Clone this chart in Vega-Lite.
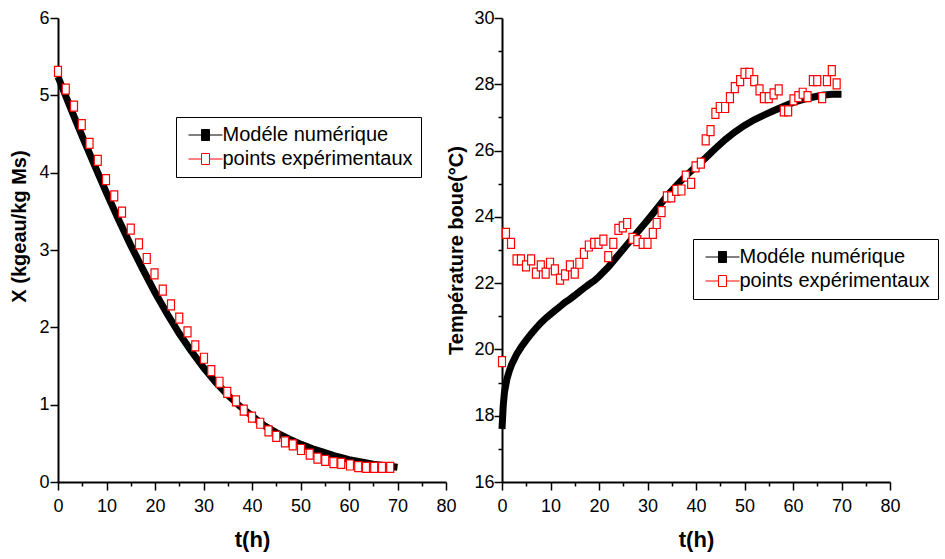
{
  "$schema": "https://vega.github.io/schema/vega-lite/v6.json",
  "background": "white",
  "padding": {"left": 9, "top": 9, "right": 0, "bottom": 5},
  "config": {
    "view": {"stroke": null},
    "axis": {
      "domainColor": "black", "domainWidth": 2, "tickColor": "black", "tickWidth": 1.5,
      "grid": false, "labelColor": "black", "titleColor": "black",
      "labelFont": "'Liberation Sans Narrow', 'Liberation Sans', sans-serif", "labelFontSize": 18,
      "labelFlush": false, "labelOverlap": false, "labelBound": false,
      "titleFont": "'Liberation Sans', Arial, sans-serif", "titleFontWeight": "bold", "titleFontSize": 20
    },
    "legend": {
      "title": null, "orient": "none",
      "symbolType": "M-3.09,0L-0.727,0M0.727,0L3.09,0M-0.727,-1L0.727,-1L0.727,1L-0.727,1Z",
      "symbolSize": 121, "symbolOffset": 11.5, "labelOffset": 7, "symbolStrokeWidth": 1,
      "symbolFillColor": "white", "symbolStrokeColor": "black", "symbolOpacity": 1,
      "labelFont": "'Liberation Sans', Arial, sans-serif", "labelFontSize": 20, "labelColor": "black", "labelLimit": 400,
      "padding": 8, "rowPadding": 4, "strokeColor": "black", "fillColor": "white"
    }
  },
  "datasets": {
    "xmod": [
      {"t": 0, "v": 5.24, "s": "Modéle numérique"}, {"t": 2.5, "v": 4.85, "s": "Modéle numérique"},
      {"t": 5, "v": 4.47, "s": "Modéle numérique"}, {"t": 7.5, "v": 4.10, "s": "Modéle numérique"},
      {"t": 10, "v": 3.74, "s": "Modéle numérique"}, {"t": 12.5, "v": 3.39, "s": "Modéle numérique"},
      {"t": 15, "v": 3.06, "s": "Modéle numérique"}, {"t": 17.5, "v": 2.75, "s": "Modéle numérique"},
      {"t": 20, "v": 2.45, "s": "Modéle numérique"}, {"t": 22.5, "v": 2.175, "s": "Modéle numérique"},
      {"t": 25, "v": 1.92, "s": "Modéle numérique"}, {"t": 27.5, "v": 1.69, "s": "Modéle numérique"},
      {"t": 30, "v": 1.48, "s": "Modéle numérique"}, {"t": 32.5, "v": 1.29, "s": "Modéle numérique"},
      {"t": 35, "v": 1.125, "s": "Modéle numérique"}, {"t": 37.5, "v": 0.98, "s": "Modéle numérique"},
      {"t": 40, "v": 0.855, "s": "Modéle numérique"}, {"t": 42.5, "v": 0.73, "s": "Modéle numérique"},
      {"t": 45, "v": 0.64, "s": "Modéle numérique"}, {"t": 47.5, "v": 0.56, "s": "Modéle numérique"},
      {"t": 50, "v": 0.49, "s": "Modéle numérique"}, {"t": 52.5, "v": 0.43, "s": "Modéle numérique"},
      {"t": 55, "v": 0.38, "s": "Modéle numérique"}, {"t": 57.5, "v": 0.33, "s": "Modéle numérique"},
      {"t": 60, "v": 0.29, "s": "Modéle numérique"}, {"t": 62.5, "v": 0.26, "s": "Modéle numérique"},
      {"t": 65, "v": 0.23, "s": "Modéle numérique"}, {"t": 67.5, "v": 0.21, "s": "Modéle numérique"},
      {"t": 70, "v": 0.19, "s": "Modéle numérique"}
    ],
    "xexp": [
      {"t": 0, "v": 5.31, "s": "points expérimentaux"}, {"t": 1.6, "v": 5.08, "s": "points expérimentaux"},
      {"t": 3.3, "v": 4.86, "s": "points expérimentaux"}, {"t": 4.9, "v": 4.62, "s": "points expérimentaux"},
      {"t": 6.5, "v": 4.38, "s": "points expérimentaux"}, {"t": 8.2, "v": 4.16, "s": "points expérimentaux"},
      {"t": 9.9, "v": 3.91, "s": "points expérimentaux"}, {"t": 11.6, "v": 3.70, "s": "points expérimentaux"},
      {"t": 13.2, "v": 3.49, "s": "points expérimentaux"}, {"t": 15.0, "v": 3.27, "s": "points expérimentaux"},
      {"t": 16.7, "v": 3.08, "s": "points expérimentaux"}, {"t": 18.3, "v": 2.89, "s": "points expérimentaux"},
      {"t": 19.9, "v": 2.69, "s": "points expérimentaux"}, {"t": 21.6, "v": 2.48, "s": "points expérimentaux"},
      {"t": 23.3, "v": 2.29, "s": "points expérimentaux"}, {"t": 25.0, "v": 2.12, "s": "points expérimentaux"},
      {"t": 26.7, "v": 1.94, "s": "points expérimentaux"}, {"t": 28.3, "v": 1.76, "s": "points expérimentaux"},
      {"t": 30.1, "v": 1.60, "s": "points expérimentaux"}, {"t": 31.6, "v": 1.44, "s": "points expérimentaux"},
      {"t": 33.3, "v": 1.29, "s": "points expérimentaux"}, {"t": 34.9, "v": 1.16, "s": "points expérimentaux"},
      {"t": 36.7, "v": 1.05, "s": "points expérimentaux"}, {"t": 38.3, "v": 0.93, "s": "points expérimentaux"},
      {"t": 40.0, "v": 0.84, "s": "points expérimentaux"}, {"t": 41.7, "v": 0.76, "s": "points expérimentaux"},
      {"t": 43.4, "v": 0.66, "s": "points expérimentaux"}, {"t": 45.0, "v": 0.59, "s": "points expérimentaux"},
      {"t": 46.8, "v": 0.52, "s": "points expérimentaux"}, {"t": 48.4, "v": 0.48, "s": "points expérimentaux"},
      {"t": 50.1, "v": 0.42, "s": "points expérimentaux"}, {"t": 51.9, "v": 0.36, "s": "points expérimentaux"},
      {"t": 53.5, "v": 0.31, "s": "points expérimentaux"}, {"t": 55.1, "v": 0.28, "s": "points expérimentaux"},
      {"t": 56.8, "v": 0.25, "s": "points expérimentaux"}, {"t": 58.4, "v": 0.24, "s": "points expérimentaux"},
      {"t": 60.2, "v": 0.22, "s": "points expérimentaux"}, {"t": 61.9, "v": 0.20, "s": "points expérimentaux"},
      {"t": 63.5, "v": 0.19, "s": "points expérimentaux"}, {"t": 65.2, "v": 0.19, "s": "points expérimentaux"},
      {"t": 66.8, "v": 0.19, "s": "points expérimentaux"}, {"t": 68.5, "v": 0.19, "s": "points expérimentaux"}
    ],
    "tmod": [
      {"t": 0, "v": 17.6, "s": "Modéle numérique"}, {"t": 0.25, "v": 18.3, "s": "Modéle numérique"},
      {"t": 0.5, "v": 18.7, "s": "Modéle numérique"}, {"t": 1, "v": 19.1, "s": "Modéle numérique"},
      {"t": 1.5, "v": 19.35, "s": "Modéle numérique"}, {"t": 2, "v": 19.55, "s": "Modéle numérique"},
      {"t": 3, "v": 19.85, "s": "Modéle numérique"}, {"t": 4, "v": 20.08, "s": "Modéle numérique"},
      {"t": 5, "v": 20.28, "s": "Modéle numérique"}, {"t": 6, "v": 20.47, "s": "Modéle numérique"},
      {"t": 7, "v": 20.64, "s": "Modéle numérique"}, {"t": 8, "v": 20.8, "s": "Modéle numérique"},
      {"t": 9, "v": 20.94, "s": "Modéle numérique"}, {"t": 10, "v": 21.06, "s": "Modéle numérique"},
      {"t": 11, "v": 21.18, "s": "Modéle numérique"}, {"t": 12, "v": 21.3, "s": "Modéle numérique"},
      {"t": 13, "v": 21.42, "s": "Modéle numérique"}, {"t": 14, "v": 21.52, "s": "Modéle numérique"},
      {"t": 15, "v": 21.63, "s": "Modéle numérique"}, {"t": 16, "v": 21.75, "s": "Modéle numérique"},
      {"t": 17, "v": 21.86, "s": "Modéle numérique"}, {"t": 18, "v": 21.97, "s": "Modéle numérique"},
      {"t": 19, "v": 22.07, "s": "Modéle numérique"}, {"t": 20, "v": 22.2, "s": "Modéle numérique"},
      {"t": 22, "v": 22.5, "s": "Modéle numérique"}, {"t": 24, "v": 22.85, "s": "Modéle numérique"},
      {"t": 26, "v": 23.2, "s": "Modéle numérique"}, {"t": 28, "v": 23.55, "s": "Modéle numérique"},
      {"t": 30, "v": 23.9, "s": "Modéle numérique"}, {"t": 32, "v": 24.26, "s": "Modéle numérique"},
      {"t": 34, "v": 24.63, "s": "Modéle numérique"}, {"t": 36, "v": 24.95, "s": "Modéle numérique"},
      {"t": 38, "v": 25.25, "s": "Modéle numérique"}, {"t": 40, "v": 25.52, "s": "Modéle numérique"},
      {"t": 42, "v": 25.78, "s": "Modéle numérique"}, {"t": 44, "v": 26.06, "s": "Modéle numérique"},
      {"t": 46, "v": 26.33, "s": "Modéle numérique"}, {"t": 48, "v": 26.56, "s": "Modéle numérique"},
      {"t": 50, "v": 26.76, "s": "Modéle numérique"}, {"t": 52, "v": 26.93, "s": "Modéle numérique"},
      {"t": 54, "v": 27.07, "s": "Modéle numérique"}, {"t": 56, "v": 27.2, "s": "Modéle numérique"},
      {"t": 58, "v": 27.33, "s": "Modéle numérique"}, {"t": 60, "v": 27.45, "s": "Modéle numérique"},
      {"t": 62, "v": 27.54, "s": "Modéle numérique"}, {"t": 64, "v": 27.61, "s": "Modéle numérique"},
      {"t": 66, "v": 27.67, "s": "Modéle numérique"}, {"t": 68, "v": 27.7, "s": "Modéle numérique"},
      {"t": 70, "v": 27.7, "s": "Modéle numérique"}
    ],
    "texp": [
      {"t": 0, "v": 19.63, "s": "points expérimentaux"}, {"t": 0.82, "v": 23.5, "s": "points expérimentaux"},
      {"t": 1.86, "v": 23.2, "s": "points expérimentaux"}, {"t": 3.0, "v": 22.7, "s": "points expérimentaux"},
      {"t": 3.9, "v": 22.7, "s": "points expérimentaux"}, {"t": 4.95, "v": 22.52, "s": "points expérimentaux"},
      {"t": 6.0, "v": 22.7, "s": "points expérimentaux"}, {"t": 7.0, "v": 22.3, "s": "points expérimentaux"},
      {"t": 8.0, "v": 22.52, "s": "points expérimentaux"}, {"t": 9.0, "v": 22.3, "s": "points expérimentaux"},
      {"t": 9.9, "v": 22.6, "s": "points expérimentaux"}, {"t": 10.9, "v": 22.4, "s": "points expérimentaux"},
      {"t": 11.96, "v": 22.12, "s": "points expérimentaux"}, {"t": 13.0, "v": 22.25, "s": "points expérimentaux"},
      {"t": 14.0, "v": 22.52, "s": "points expérimentaux"}, {"t": 15.0, "v": 22.3, "s": "points expérimentaux"},
      {"t": 15.95, "v": 22.6, "s": "points expérimentaux"}, {"t": 16.9, "v": 22.9, "s": "points expérimentaux"},
      {"t": 17.9, "v": 23.12, "s": "points expérimentaux"}, {"t": 19.0, "v": 23.2, "s": "points expérimentaux"},
      {"t": 19.9, "v": 23.2, "s": "points expérimentaux"}, {"t": 20.9, "v": 23.3, "s": "points expérimentaux"},
      {"t": 21.9, "v": 22.8, "s": "points expérimentaux"}, {"t": 22.95, "v": 23.2, "s": "points expérimentaux"},
      {"t": 24.0, "v": 23.62, "s": "points expérimentaux"}, {"t": 24.9, "v": 23.7, "s": "points expérimentaux"},
      {"t": 25.8, "v": 23.8, "s": "points expérimentaux"}, {"t": 26.9, "v": 23.35, "s": "points expérimentaux"},
      {"t": 27.9, "v": 23.28, "s": "points expérimentaux"}, {"t": 29.0, "v": 23.2, "s": "points expérimentaux"},
      {"t": 30.0, "v": 23.2, "s": "points expérimentaux"}, {"t": 31.1, "v": 23.5, "s": "points expérimentaux"},
      {"t": 31.9, "v": 23.8, "s": "points expérimentaux"}, {"t": 32.9, "v": 24.16, "s": "points expérimentaux"},
      {"t": 34.0, "v": 24.6, "s": "points expérimentaux"}, {"t": 34.9, "v": 24.6, "s": "points expérimentaux"},
      {"t": 35.9, "v": 24.8, "s": "points expérimentaux"}, {"t": 37.0, "v": 24.81, "s": "points expérimentaux"},
      {"t": 37.9, "v": 25.23, "s": "points expérimentaux"}, {"t": 39.0, "v": 25.01, "s": "points expérimentaux"},
      {"t": 39.9, "v": 25.51, "s": "points expérimentaux"}, {"t": 41.0, "v": 25.62, "s": "points expérimentaux"},
      {"t": 42.0, "v": 26.32, "s": "points expérimentaux"}, {"t": 43.0, "v": 26.6, "s": "points expérimentaux"},
      {"t": 44.0, "v": 27.12, "s": "points expérimentaux"}, {"t": 44.9, "v": 27.3, "s": "points expérimentaux"},
      {"t": 46.0, "v": 27.3, "s": "points expérimentaux"}, {"t": 47.0, "v": 27.6, "s": "points expérimentaux"},
      {"t": 48.0, "v": 27.9, "s": "points expérimentaux"}, {"t": 49.1, "v": 28.11, "s": "points expérimentaux"},
      {"t": 50.0, "v": 28.33, "s": "points expérimentaux"}, {"t": 51.0, "v": 28.33, "s": "points expérimentaux"},
      {"t": 52.0, "v": 28.11, "s": "points expérimentaux"}, {"t": 53.1, "v": 27.83, "s": "points expérimentaux"},
      {"t": 54.0, "v": 27.6, "s": "points expérimentaux"}, {"t": 55.0, "v": 27.6, "s": "points expérimentaux"},
      {"t": 56.0, "v": 27.71, "s": "points expérimentaux"}, {"t": 57.05, "v": 27.83, "s": "points expérimentaux"},
      {"t": 58.1, "v": 27.2, "s": "points expérimentaux"}, {"t": 59.0, "v": 27.2, "s": "points expérimentaux"},
      {"t": 60.1, "v": 27.53, "s": "points expérimentaux"}, {"t": 61.1, "v": 27.63, "s": "points expérimentaux"},
      {"t": 62.0, "v": 27.73, "s": "points expérimentaux"}, {"t": 63.0, "v": 27.63, "s": "points expérimentaux"},
      {"t": 64.1, "v": 28.11, "s": "points expérimentaux"}, {"t": 65.0, "v": 28.11, "s": "points expérimentaux"},
      {"t": 66.0, "v": 27.6, "s": "points expérimentaux"}, {"t": 67.0, "v": 28.11, "s": "points expérimentaux"},
      {"t": 68.0, "v": 28.41, "s": "points expérimentaux"}, {"t": 69.0, "v": 28.01, "s": "points expérimentaux"}
    ]
  },
  "spacing": 56,
  "bounds": "flush",
  "resolve": {"scale": {"stroke": "independent", "fill": "independent"}, "legend": {"stroke": "independent", "fill": "independent"}},
  "hconcat": [
    {
      "width": 388, "height": 464,
      "encoding": {
        "x": {"field": "t", "type": "quantitative", "scale": {"domain": [0, 80], "nice": false, "zero": false},
          "axis": {"title": "t(h)", "titleFont": "'Liberation Sans Narrow', 'Liberation Sans', sans-serif", "titleFontSize": 22, "titlePadding": 14,
            "values": [0,5,10,15,20,25,30,35,40,45,50,55,60,65,70,75,80], "format": "d",
            "labelExpr": "datum.value % 10 === 0 ? datum.label : ''", "labelPadding": 7,
            "tickSize": {"condition": {"test": "datum.value % 10 === 0", "value": 8}, "value": 4}}},
        "y": {"field": "v", "type": "quantitative", "scale": {"domain": [0, 6], "nice": false, "zero": false},
          "axis": {"title": "X (kgeau/kg Ms)", "titlePadding": 9, "titleY": 208,
            "values": [0,0.5,1,1.5,2,2.5,3,3.5,4,4.5,5,5.5,6], "format": "d",
            "labelExpr": "datum.value % 1 === 0 ? datum.label : ''", "labelPadding": 1,
            "tickSize": {"condition": {"test": "datum.value % 1 === 0", "value": 8}, "value": 4}}},
        "stroke": {"field": "s", "type": "nominal",
          "scale": {"domain": ["Modéle numérique", "points expérimentaux"], "range": ["black", "red"]},
          "legend": {"legendX": 118, "legendY": 99}}
      },
      "layer": [
        {"data": {"name": "xmod"}, "mark": {"type": "line", "strokeWidth": 7}},
        {"data": {"name": "xexp"}, "mark": {"type": "point", "shape": "M-0.7,-1L0.7,-1L0.7,1L-0.7,1Z", "size": 100, "filled": false, "strokeWidth": 1.2, "opacity": 1},
         "encoding": {"fill": {"field": "s", "type": "nominal",
           "scale": {"domain": ["Modéle numérique", "points expérimentaux"], "range": ["black", "white"]},
           "legend": {"legendX": 118, "legendY": 99}}}}
      ]
    },
    {
      "width": 388, "height": 464,
      "encoding": {
        "x": {"field": "t", "type": "quantitative", "scale": {"domain": [0, 80], "nice": false, "zero": false},
          "axis": {"title": "t(h)", "titleFont": "'Liberation Sans Narrow', 'Liberation Sans', sans-serif", "titleFontSize": 22, "titlePadding": 14,
            "values": [0,5,10,15,20,25,30,35,40,45,50,55,60,65,70,75,80], "format": "d",
            "labelExpr": "datum.value % 10 === 0 ? datum.label : ''", "labelPadding": 7,
            "tickSize": {"condition": {"test": "datum.value % 10 === 0", "value": 8}, "value": 4}}},
        "y": {"field": "v", "type": "quantitative", "scale": {"domain": [16, 30], "nice": false, "zero": false},
          "axis": {"title": "Température boue(°C)", "titlePadding": 7,
            "values": [16,17,18,19,20,21,22,23,24,25,26,27,28,29,30], "format": "d",
            "labelExpr": "datum.value % 2 === 0 ? datum.label : ''", "labelPadding": 0,
            "tickSize": {"condition": {"test": "datum.value % 2 === 0", "value": 8}, "value": 4}}},
        "stroke": {"field": "s", "type": "nominal",
          "scale": {"domain": ["Modéle numérique", "points expérimentaux"], "range": ["black", "red"]},
          "legend": {"legendX": 191, "legendY": 221}}
      },
      "layer": [
        {"data": {"name": "tmod"}, "mark": {"type": "line", "strokeWidth": 7}},
        {"data": {"name": "texp"}, "mark": {"type": "point", "shape": "M-0.7,-1L0.7,-1L0.7,1L-0.7,1Z", "size": 100, "filled": false, "strokeWidth": 1.2, "opacity": 1},
         "encoding": {"fill": {"field": "s", "type": "nominal",
           "scale": {"domain": ["Modéle numérique", "points expérimentaux"], "range": ["black", "white"]},
           "legend": {"legendX": 191, "legendY": 221}}}}
      ]
    }
  ]
}
